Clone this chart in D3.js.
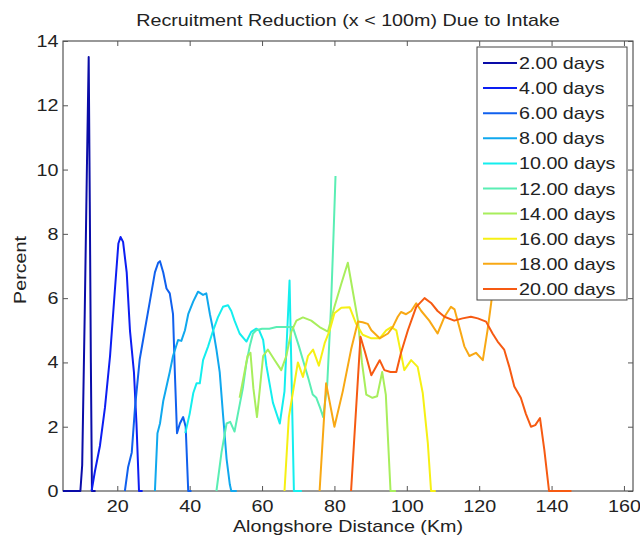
<!DOCTYPE html>
<html>
  <head>
    <meta charset="utf-8" />
    <script src="https://d3js.org/d3.v7.min.js"></script>
    <style>
      body { margin: 0; background: #fff; }
      text { font-family: 'Liberation Sans', Arial, Helvetica, sans-serif; fill: #222; }
    </style>
    <title>Recruitment Reduction</title>
  </head>

  <body>
    <div id="chart"></div>
  </body>

  <script>
    // legend labels (larval age)
    var dayLabels = ['2.00 days', '4.00 days', '6.00 days', '8.00 days', '10.00 days',
      '12.00 days', '14.00 days', '16.00 days', '18.00 days', '20.00 days'];

    // [alongshore km, percent]
    var days2 = [[5, 0], [7, 0], [9, 0], [9.8, 0], [10.3, 0.8], [11, 5.5], [11.6, 10],
      [12.1, 13.5], [12.4, 9], [12.7, 4], [13, 0], [14, 0]];
    var days4 = [[12.9, 0], [13.8, 0.6], [15.2, 1.4], [16.6, 2.6], [18, 4.2], [19.3, 6.2],
      [20.3, 7.7], [20.9, 7.9], [21.6, 7.75], [22.6, 6.8], [23.5, 5.0], [24.6, 3.7],
      [25.3, 2.1], [26, 0], [27, 0]];
    var days6 = [[22.1, 0], [23, 0.75], [24, 1.2], [24.9, 2.6], [26.2, 4.1], [27.6, 5.0],
      [29, 5.9], [30.4, 6.8], [31.3, 7.1], [31.8, 7.15], [32.7, 6.8], [33.6, 6.3],
      [34.5, 6.15], [35.4, 5.5], [35.9, 3.7], [36.5, 1.8], [37.3, 2.1], [38.2, 2.3],
      [38.9, 2.0], [39.6, 0], [40.5, 0]];
    var days8 = [[30.4, 0], [31.1, 1.8], [31.8, 2.1], [32.7, 2.8], [33.6, 3.25], [34.5, 3.7],
      [35.4, 4.2], [36.8, 4.7], [37.7, 4.67], [38.7, 5.0], [39.6, 5.5], [41, 5.9],
      [42.3, 6.2], [43.7, 6.1], [44.6, 6.15], [45.6, 5.5], [46.5, 5.0], [47.4, 4.4],
      [48.3, 3.7], [49.2, 2.4], [50.2, 1.0], [51.1, 0.2], [51.5, 0], [53, 0]];
    var days10 = [[38.8, 1.8], [40, 2.4], [41, 3.05], [41.9, 3.35], [42.8, 3.35], [43.7, 4.07],
      [45.1, 4.5], [46.5, 5.0], [47.8, 5.4], [49.2, 5.73], [50.6, 5.78], [51.5, 5.6],
      [52.4, 5.3], [53.8, 4.9], [55.7, 4.65], [57, 4.95], [58.4, 5.05], [59.2, 5.0],
      [60.3, 4.7], [61.2, 3.9], [63, 2.75], [64.9, 2.1], [66.2, 3.1], [67.6, 6.55],
      [68.8, 0], [71, 0]];
    var days12 = [[47.4, 0], [48.8, 1.2], [50.2, 2.1], [51.2, 2.15], [52.4, 1.85], [53.5, 2.5],
      [54.7, 3.2], [55.7, 4.0], [56.6, 4.5], [57.5, 4.9], [58.4, 5.0], [60, 5.05],
      [62, 5.05], [64, 5.1], [66, 5.1], [68.5, 5.1], [70.2, 4.5], [71.5, 4.0], [72.8, 3.5],
      [74, 3.0], [75, 2.9], [76, 2.6], [76.9, 2.3], [78, 3.3], [79, 5.6], [79.7, 7.8],
      [80.3, 9.8]];
    var days14 = [[53.8, 2.9], [55, 3.6], [56, 4.2], [56.8, 4.3], [57.6, 3.2], [58.6, 2.3],
      [59.5, 3.3], [60.3, 4.2], [61.6, 4.4], [63.5, 4.07], [65.3, 3.76], [66.7, 4.2],
      [68.1, 4.96], [69.5, 5.3], [71.3, 5.4], [73.6, 5.3], [75.9, 5.1], [78.2, 4.96],
      [80, 5.73], [81.9, 6.45], [83.7, 7.1], [85.1, 6.2], [86.5, 5.3], [87.6, 4.0],
      [88.8, 3.0], [90.5, 2.9], [91.8, 2.95], [93.2, 3.7], [94.2, 3.0], [95.5, 0], [97, 0]];
    var days16 = [[66.2, 0], [67.4, 2.3], [68.5, 3.05], [69.9, 4.0], [71.3, 3.55], [72.7, 4.2],
      [74.1, 4.4], [75.7, 3.9], [77.3, 4.6], [78.7, 5.0], [80, 5.53], [81.9, 5.7],
      [84.2, 5.72], [86, 5.2], [87.8, 4.86], [90.2, 4.75], [92.5, 4.75], [94.3, 5.0],
      [95.7, 5.1], [97.1, 5.0], [98, 4.5], [99.3, 3.76], [101.2, 4.07], [103, 3.86],
      [104.4, 3.05], [105.8, 1.5], [106.7, 0], [108, 0]];
    var days18 = [[75.9, 0], [77.7, 3.35], [80, 2.0], [82.3, 3.1], [84.6, 4.4], [86.5, 5.27],
      [87.8, 5.25], [89.2, 5.2], [90.2, 5.0], [92.5, 4.75], [94.8, 4.9], [96.1, 5.1],
      [97.5, 5.42], [98.4, 5.57], [99.8, 5.5], [101.2, 5.6], [102.6, 5.84], [104, 5.6],
      [106.2, 5.3], [108.5, 4.9], [110.4, 5.42], [112.2, 5.73], [113.2, 5.65], [114.5, 5.1],
      [115.9, 4.5], [117.3, 4.2], [119.1, 4.3], [121, 4.07], [122.3, 5.0], [123.3, 5.84],
      [124.5, 7.0]];
    var days20 = [[84.6, 0], [87.2, 4.8], [88.5, 4.3], [90.2, 3.6], [92.5, 4.07], [93.8, 3.76],
      [95.5, 3.7], [97.1, 3.7], [98.4, 4.3], [100.3, 5.0], [102.6, 5.73], [104.9, 6.0],
      [106.7, 5.85], [108.5, 5.6], [110.4, 5.42], [113.1, 5.3], [115.4, 5.37], [117.7, 5.42],
      [119.6, 5.37], [121.9, 5.27], [123.7, 4.9], [125.1, 4.65], [126.9, 4.4], [128.3, 3.87],
      [129.7, 3.25], [131.5, 2.9], [132.9, 2.4], [134.3, 2.0], [135.5, 2.05], [136.8, 2.27],
      [138, 1.28], [139.3, 0], [145.5, 0]];

    var series = [days2, days4, days6, days8, days10, days12, days14, days16, days18, days20];

    var xTicks = [20, 40, 60, 80, 100, 120, 140, 160];
    var yTicks = [0, 2, 4, 6, 8, 10, 12, 14];

    // jet(10), toned down a little like the picture
    var colors = ['#0a0ca8', '#0c1ef2', '#1060ee', '#10a8ee', '#14eeee',
      '#5aeeb4', '#a8ee5c', '#f6f014', '#f8a814', '#f65a12'];

    var width = 640,
      height = 541;
    var stretch = 1.16; // glyphs in the picture are a bit wide

    var svg = d3
      .select('#chart')
      .append('svg')
      .attr('width', width)
      .attr('height', height);

    var x = d3.scaleLinear().domain([5, 162.5]).range([63, 633]);
    var y = d3.scaleLinear().domain([0, 14]).range([491, 41]);

    // frame
    svg
      .append('rect')
      .attr('x', x.range()[0])
      .attr('y', y.range()[1])
      .attr('width', x.range()[1] - x.range()[0])
      .attr('height', y.range()[0] - y.range()[1])
      .attr('fill', 'none')
      .attr('stroke', '#333')
      .attr('stroke-width', 1);

    function styleAxis(g) {
      g.select('.domain').remove();
      g.selectAll('line').attr('stroke', '#555');
      g.selectAll('text')
        .style('font-size', '17px')
        .style('font-family', "'Liberation Sans', Arial, sans-serif")
        .attr('fill', '#222');
    }

    svg
      .append('g')
      .attr('transform', 'translate(0,' + y.range()[0] + ')')
      .call(d3.axisBottom(x).tickValues(xTicks).tickSizeInner(-5).tickSizeOuter(0).tickPadding(9))
      .call(styleAxis)
      .selectAll('text')
      .attr('transform', 'scale(' + stretch + ',1)')
      .attr('x', 0);

    svg
      .append('g')
      .attr('transform', 'translate(' + x.range()[0] + ',0)')
      .call(d3.axisLeft(y).tickValues(yTicks).tickSizeInner(-5).tickSizeOuter(0).tickPadding(4))
      .call(styleAxis)
      .selectAll('text')
      .attr('transform', 'scale(' + stretch + ',1)');

    svg
      .append('g')
      .attr('transform', 'translate(0,' + y.range()[1] + ')')
      .call(d3.axisTop(x).tickValues(xTicks).tickSizeInner(-5).tickSizeOuter(0).tickFormat(''))
      .call(styleAxis);

    svg
      .append('g')
      .attr('transform', 'translate(' + x.range()[1] + ',0)')
      .call(d3.axisRight(y).tickValues(yTicks).tickSizeInner(-5).tickSizeOuter(0).tickFormat(''))
      .call(styleAxis);

    // lines
    var line = d3
      .line()
      .x((d) => x(d[0]))
      .y((d) => y(d[1]));

    svg
      .append('g')
      .selectAll('path')
      .data(series)
      .join('path')
      .attr('d', line)
      .attr('fill', 'none')
      .attr('stroke', (d, i) => colors[i])
      .attr('stroke-width', 2)
      .attr('stroke-linejoin', 'round');

    // title and axis labels
    function stretchedText(px, py, str, rot) {
      return svg
        .append('text')
        .attr(
          'transform',
          'translate(' + px + ',' + py + ')' + (rot ? ' rotate(' + rot + ')' : '') + ' scale(' + stretch + ',1)'
        )
        .attr('text-anchor', 'middle')
        .style('font-size', '17px')
        .text(str);
    }

    stretchedText(348, 26, 'Recruitment Reduction (x < 100m) Due to Intake');
    stretchedText(348, 532, 'Alongshore Distance (Km)');
    stretchedText(26, 270, 'Percent', -90);

    // legend
    var legend = svg.append('g');
    legend
      .append('rect')
      .attr('x', 477)
      .attr('y', 47)
      .attr('width', 150)
      .attr('height', 253)
      .attr('fill', '#fff')
      .attr('stroke', '#444')
      .attr('stroke-width', 1);

    var rows = legend
      .selectAll('g.row')
      .data(dayLabels)
      .join('g')
      .attr('class', 'row')
      .attr('transform', (d, i) => 'translate(483,' + (63 + i * 25.1) + ')');

    rows
      .append('line')
      .attr('x1', 0)
      .attr('x2', 34)
      .attr('stroke', (d, i) => colors[i])
      .attr('stroke-width', 2);

    rows
      .append('text')
      .attr('transform', 'translate(36,6) scale(' + stretch + ',1)')
      .style('font-size', '17px')
      .text((d) => d);
  </script>
</html>
